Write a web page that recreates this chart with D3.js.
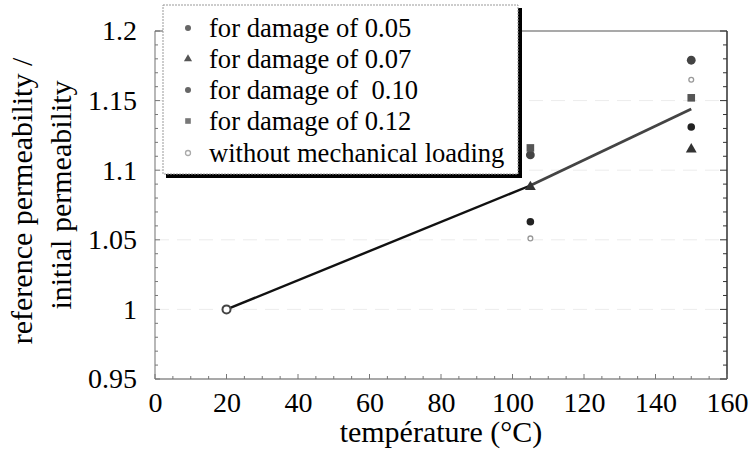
<!DOCTYPE html>
<html><head><meta charset="utf-8">
<script src="https://cdn.jsdelivr.net/npm/d3@7"></script>
<style>body{margin:0;background:#fff}svg{display:block}svg text{font-family:'Liberation Serif','DejaVu Serif',serif !important;fill:#000}</style>
</head><body><svg id="c" width="749" height="449"></svg>
<script>
// ---- data ----
const xTicks = [0,20,40,60,80,100,120,140,160];
const yTicks = [0.95,1.0,1.05,1.1,1.15,1.2];
const yTickLabels = ["0.95","1","1.05","1.1","1.15","1.2"];
const seriesNames = ["for damage of 0.05","for damage of 0.07","for damage of  0.10","for damage of 0.12","without mechanical loading"];
const temps = [105,150];
const dmg005 = [1.111,1.179];
const dmg007 = [1.088,1.115];
const dmg010 = [1.063,1.131];
const dmg012 = [1.116,1.152];
const noLoad = [1.051,1.165];
const refPoint = {t:20, v:1.0};
const trendT = [20,105,150];
const trendV = [1.0,1.089,1.144];

const SERIF = "'Liberation Serif', 'DejaVu Serif', serif";
const svg = d3.select("#c");
const x = d3.scaleLinear().domain([0,160]).range([155,727]);
const y = d3.scaleLinear().domain([0.95,1.2]).range([379,31]);

// faint grid
svg.append("g").selectAll("line").data(yTicks.slice(1,-1)).join("line")
  .attr("x1",x(0)).attr("x2",x(160)).attr("y1",d=>y(d)).attr("y2",d=>y(d))
  .attr("stroke","#ececec").attr("stroke-width",1).attr("stroke-dasharray","14,8");

// frame
const frame = svg.append("g").attr("fill","none");
frame.append("line").attr("x1",x(0)).attr("x2",x(0)).attr("y1",y(1.2)).attr("y2",y(0.95)).attr("stroke","#888").attr("stroke-width",1.2);
frame.append("line").attr("x1",x(160)).attr("x2",x(160)).attr("y1",y(1.2)).attr("y2",y(0.95)).attr("stroke","#222").attr("stroke-width",1.4);
frame.append("line").attr("x1",x(0)).attr("x2",x(160)).attr("y1",y(1.2)).attr("y2",y(1.2)).attr("stroke","#555").attr("stroke-width",1.2);
frame.append("line").attr("x1",x(0)).attr("x2",x(160)).attr("y1",y(0.95)).attr("y2",y(0.95)).attr("stroke","#555").attr("stroke-width",1.2);

// left axis minor ticks (inward)
const yMinor = d3.range(0,26).map(i=>0.95+i*0.01);
svg.append("g").selectAll("line").data(yMinor).join("line")
  .attr("x1",x(0)).attr("x2",(d,i)=>x(0)+(i%5===0?5:3))
  .attr("y1",d=>y(d)).attr("y2",d=>y(d)).attr("stroke","#777").attr("stroke-width",1);
// right axis ticks (inward)
svg.append("g").selectAll("line").data(yMinor).join("line")
  .attr("x1",x(160)).attr("x2",(d,i)=>x(160)-(i%5===0?7:4))
  .attr("y1",d=>y(d)).attr("y2",d=>y(d)).attr("stroke","#333").attr("stroke-width",1);
// bottom ticks
const xMinor = d3.range(0,33).map(i=>i*5);
svg.append("g").selectAll("line").data(xMinor).join("line")
  .attr("x1",d=>x(d)).attr("x2",d=>x(d)).attr("y1",y(0.95)).attr("y2",(d,i)=>y(0.95)-(i%4===0?5:3))
  .attr("stroke","#777").attr("stroke-width",1);

// tick labels
const xAxis = d3.axisBottom(x).tickValues(xTicks).tickSize(0).tickPadding(13).tickFormat(d3.format("d"));
const gx = svg.append("g").attr("transform",`translate(0,${y(0.95)})`).call(xAxis);
gx.attr("font-family",SERIF).attr("font-size",28);
gx.select(".domain").remove();
gx.selectAll("text").attr("font-family",SERIF).style("font-size","28px").attr("fill","#000");
const yAxis = d3.axisLeft(y).tickValues(yTicks).tickSize(0).tickPadding(18).tickFormat((d,i)=>yTickLabels[i]);
const gy = svg.append("g").attr("transform",`translate(${x(0)},0)`).call(yAxis);
gy.attr("font-family",SERIF).attr("font-size",28);
gy.select(".domain").remove();
gy.selectAll("text").attr("font-family",SERIF).style("font-size","28px").attr("fill","#000");

// axis titles
svg.append("text").attr("x",441).attr("y",442).attr("text-anchor","middle").attr("font-family",SERIF).style("font-size","30px").text("température (°C)");
svg.append("text").attr("transform","translate(32,201) rotate(-90)").attr("text-anchor","middle").attr("font-family",SERIF).style("font-size","30px").text("reference permeability /");
svg.append("text").attr("transform","translate(71,195) rotate(-90)").attr("text-anchor","middle").attr("font-family",SERIF).style("font-size","30px").text("initial permeability");

// trend line
const line = d3.line().x(d=>x(d[0])).y(d=>y(d[1]));
const tr = trendT.map((t,i)=>[t,trendV[i]]);
svg.append("path").attr("d",line(tr.slice(0,2))).attr("fill","none").attr("stroke","#111").attr("stroke-width",2.4);
svg.append("path").attr("d",line(tr.slice(1))).attr("fill","none").attr("stroke","#444").attr("stroke-width",2.8);

// markers
function marker(g, type, cx, cy, s, color){
  if(type==="circle") g.append("circle").attr("cx",cx).attr("cy",cy).attr("r",s).attr("fill",color);
  else if(type==="square") g.append("rect").attr("x",cx-s).attr("y",cy-s).attr("width",2*s).attr("height",2*s).attr("fill",color);
  else if(type==="triangle") g.append("path").attr("d",d3.symbol(d3.symbolTriangle, s*s*3.2)()).attr("transform",`translate(${cx},${cy})`).attr("fill",color);
  else if(type==="open") g.append("circle").attr("cx",cx).attr("cy",cy).attr("r",s).attr("fill","#fff").attr("stroke",color).attr("stroke-width",1.3);
}
const series = [
  {vals:dmg005,type:"circle",size:4.4,color:"#444"},
  {vals:dmg007,type:"triangle",size:4,color:"#333"},
  {vals:dmg010,type:"circle",size:3.8,color:"#222"},
  {vals:dmg012,type:"square",size:3.8,color:"#555"},
  {vals:noLoad,type:"open",size:2.4,color:"#999"}
];
const gm = svg.append("g");
series.forEach(s=>s.vals.forEach((v,i)=>marker(gm,s.type,x(temps[i]),y(v),s.size,s.color)));
svg.append("circle").attr("cx",x(refPoint.t)).attr("cy",y(refPoint.v)).attr("r",4).attr("fill","#fff").attr("stroke","#444").attr("stroke-width",2);

// legend
const lg = svg.append("g");
lg.append("rect").attr("x",166).attr("y",8).attr("width",356).attr("height",170).attr("fill","#000");
lg.append("rect").attr("x",163).attr("y",5).attr("width",355).attr("height",169).attr("fill","#fff").attr("stroke","#999").attr("stroke-width",1).attr("stroke-dasharray","2,1");
const legY = [28,59,90,121,153];
const legSeries = [
  {type:"circle",size:3,color:"#666"},
  {type:"triangle",size:3,color:"#555"},
  {type:"circle",size:3,color:"#666"},
  {type:"square",size:2.8,color:"#777"},
  {type:"open",size:2.5,color:"#aaa"}
];
legSeries.forEach((s,i)=>{
  marker(lg,s.type,188,legY[i],s.size,s.color);
  lg.append("text").attr("x",209).attr("y",legY[i]+9).attr("font-family",SERIF).style("font-size","26.6px").attr("xml:space","preserve").text(seriesNames[i]);
});
</script></body></html>
